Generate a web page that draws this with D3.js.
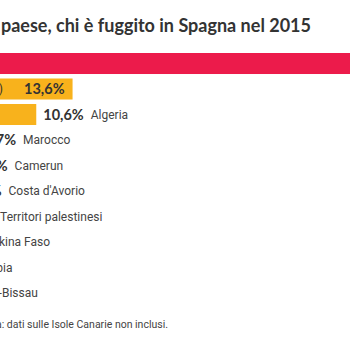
<!DOCTYPE html>
<html>
<head>
<meta charset="utf-8">
<script src="https://cdn.jsdelivr.net/npm/d3@7"></script>
<style>
  html, body { margin: 0; padding: 0; background: #fff; overflow: hidden; }
  svg { display: block; }
</style>
</head>
<body>
<div id="chart"></div>
<script>
// Data (percentages)
const countries = ["Siria", "Guinea (Conakry)", "Algeria", "Marocco", "Camerun", "Costa d'Avorio",
                   "Territori palestinesi", "Burkina Faso", "Gambia", "Guinea-Bissau"];
const values = [44.5, 13.6, 10.6, 5.7, 5.0, 4.5, 3.8, 2.2, 1.4, 0.6];
const barColors = ["#ec1b4b", "#f8b21c", "#f8b21c", "#f8b21c", "#f8b21c", "#f8b21c",
                   "#f8b21c", "#f8b21c", "#f8b21c", "#f8b21c"];
const titleText = "Paese per paese, chi è fuggito in Spagna nel 2015";
const noteText = "Nota: dati sulle Isole Canarie non inclusi.";

const data = countries.map((c, i) => ({ country: c, value: values[i], color: barColors[i] }));

const W = 350, H = 350;
const svg = d3.select("#chart").append("svg").attr("width", W).attr("height", H);

// title
svg.append("text")
  .attr("x", 311).attr("y", 32)
  .attr("text-anchor", "end")
  .attr("font-family", "Lato, 'Noto Sans', sans-serif")
  .attr("font-weight", 700)
  .attr("font-size", 18)
  .attr("fill", "#333")
  .text(titleText);

const left = -92;
const x = d3.scaleLinear().domain([0, 45]).range([left, left + 544.5]);
const y = d3.scaleBand().domain(countries).range([53, 303.5]).paddingInner(0.176).paddingOuter(0);

const g = svg.append("g");

g.selectAll("rect.bar").data(data).join("rect")
  .attr("class", "bar")
  .attr("x", x(0))
  .attr("y", d => y(d.country))
  .attr("width", d => x(d.value) - x(0))
  .attr("height", y.bandwidth())
  .attr("fill", d => d.color);

const fmt = v => d3.format(".1f")(v).replace(".", ",") + "%";

// labels
data.forEach(d => {
  const cy = y(d.country) + y.bandwidth() / 2;
  const end = x(d.value);
  if (d.value > 12) {
    const t = g.append("text").attr("y", cy).attr("dy", "0.35em").attr("text-anchor", "end");
    const val = g.append("text")
      .attr("x", end - 8).attr("y", cy).attr("dy", "0.35em")
      .attr("text-anchor", "end")
      .attr("font-family", "Lato, sans-serif").attr("font-weight", 700).attr("font-size", 14.5)
      .attr("fill", "#333").text(fmt(d.value));
    const vw = val.node().getComputedTextLength();
    t.attr("x", end - 8 - vw - 21)
      .attr("font-family", "Roboto, sans-serif").attr("font-size", 12)
      .attr("fill", "#333").text(d.country);
  } else {
    const val = g.append("text")
      .attr("x", end + 7).attr("y", cy).attr("dy", "0.35em")
      .attr("font-family", "Lato, sans-serif").attr("font-weight", 700).attr("font-size", 14.5)
      .attr("fill", "#333").text(fmt(d.value));
    const vw = val.node().getComputedTextLength();
    g.append("text")
      .attr("x", end + 7 + vw + 7).attr("y", cy).attr("dy", "0.35em")
      .attr("font-family", "Roboto, sans-serif").attr("font-size", 12)
      .attr("fill", "#444").text(d.country);
  }
});

// note
svg.append("text")
  .attr("x", 168).attr("y", 328)
  .attr("text-anchor", "end")
  .attr("font-family", "Roboto, sans-serif")
  .attr("font-size", 10.5)
  .attr("fill", "#444")
  .text(noteText);
</script>
</body>
</html>
